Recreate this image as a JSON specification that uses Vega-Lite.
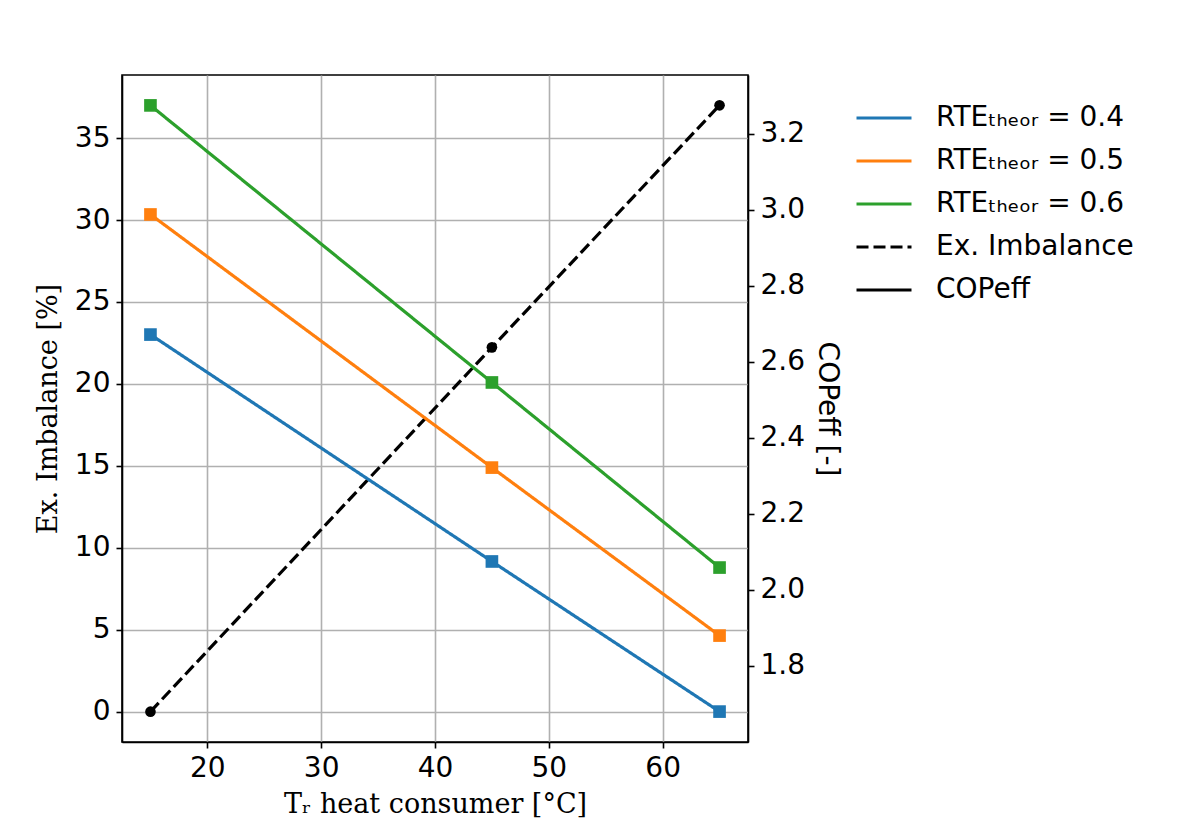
{
  "$schema": "https://vega.github.io/schema/vega-lite/v6.json",
  "width": 626,
  "height": 667,
  "autosize": {"type": "none"},
  "padding": {"left": 122, "top": 75, "right": 438, "bottom": 83},
  "background": "white",
  "config": {
    "view": {"stroke": "black", "strokeWidth": 1.6},
    "axis": {
      "labelFont": "DejaVu Sans",
      "labelFontSize": 28,
      "labelColor": "black",
      "tickColor": "black",
      "tickWidth": 1.6,
      "tickSize": 6,
      "domainColor": "black",
      "domainWidth": 1.6,
      "gridColor": "#b0b0b0",
      "gridWidth": 1.6,
      "labelPadding": 6,
      "titleColor": "black",
      "titleFontWeight": "normal"
    },
    "legend": {
      "orient": "none",
      "legendX": 733,
      "legendY": 14,
      "padding": 0,
      "symbolType": "stroke",
      "symbolSize": 3025,
      "symbolStrokeWidth": 3,
      "labelFont": "DejaVu Sans",
      "labelFontSize": 28,
      "labelColor": "black",
      "labelOffset": 23,
      "labelLimit": 500,
      "rowPadding": 0,
      "title": null
    }
  },
  "datasets": {
    "cop": [
      {"T": 15, "series": "RTEₜₕₑₒᵣ = 0.4", "cop": 2.671},
      {"T": 45, "series": "RTEₜₕₑₒᵣ = 0.4", "cop": 2.074},
      {"T": 65, "series": "RTEₜₕₑₒᵣ = 0.4", "cop": 1.679},
      {"T": 15, "series": "RTEₜₕₑₒᵣ = 0.5", "cop": 2.987},
      {"T": 45, "series": "RTEₜₕₑₒᵣ = 0.5", "cop": 2.321},
      {"T": 65, "series": "RTEₜₕₑₒᵣ = 0.5", "cop": 1.879},
      {"T": 15, "series": "RTEₜₕₑₒᵣ = 0.6", "cop": 3.274},
      {"T": 45, "series": "RTEₜₕₑₒᵣ = 0.6", "cop": 2.545},
      {"T": 65, "series": "RTEₜₕₑₒᵣ = 0.6", "cop": 2.058}
    ],
    "ex": [
      {"T": 15, "series": "Ex. Imbalance", "ex": 0.0},
      {"T": 45, "series": "Ex. Imbalance", "ex": 22.23},
      {"T": 65, "series": "Ex. Imbalance", "ex": 37.0}
    ]
  },
  "layer": [
    {
      "data": {"name": "ex"},
      "mark": {"type": "line", "strokeWidth": 3.2, "point": {"shape": "circle", "filled": true, "size": 113, "opacity": 1}},
      "encoding": {
        "x": {"field": "T", "type": "quantitative", "scale": {"domain": [12.5, 67.5], "nice": false, "zero": false},
          "axis": {"values": [20, 30, 40, 50, 60], "title": "Tᵣ heat consumer [°C]", "titleFont": "DejaVu Serif", "titleFontSize": 27, "titlePadding": 9, "grid": true}},
        "y": {"field": "ex", "type": "quantitative", "scale": {"domain": [-1.85, 38.85], "nice": false, "zero": false},
          "axis": {"orient": "left", "values": [0, 5, 10, 15, 20, 25, 30, 35], "title": "Ex. Imbalance [%]", "titleFont": "DejaVu Serif", "titleFontSize": 27, "titlePadding": 12, "grid": true}},
        "color": {"field": "series", "type": "nominal",
          "scale": {"domain": ["RTEₜₕₑₒᵣ = 0.4", "RTEₜₕₑₒᵣ = 0.5", "RTEₜₕₑₒᵣ = 0.6", "Ex. Imbalance", "COPeff"], "range": ["#1f77b4", "#ff7f0e", "#2ca02c", "black", "black"]}},
        "strokeDash": {"field": "series", "type": "nominal",
          "scale": {"domain": ["RTEₜₕₑₒᵣ = 0.4", "RTEₜₕₑₒᵣ = 0.5", "RTEₜₕₑₒᵣ = 0.6", "Ex. Imbalance", "COPeff"], "range": [[1, 0], [1, 0], [1, 0], [12, 5], [1, 0]]}}
      }
    },
    {
      "data": {"name": "cop"},
      "mark": {"type": "line", "strokeWidth": 3.2, "point": {"shape": "square", "filled": true, "size": 160, "opacity": 1}},
      "encoding": {
        "x": {"field": "T", "type": "quantitative"},
        "y": {"field": "cop", "type": "quantitative", "scale": {"domain": [1.599, 3.354], "nice": false, "zero": false},
          "axis": {"orient": "right", "values": [1.8, 2.0, 2.2, 2.4, 2.6, 2.8, 3.0, 3.2], "format": ".1f", "title": "COPeff [-]", "titleFont": "DejaVu Sans", "titleFontSize": 28, "titlePadding": 8, "grid": false}},
        "color": {"field": "series", "type": "nominal"},
        "strokeDash": {"field": "series", "type": "nominal"}
      }
    }
  ],
  "resolve": {"scale": {"y": "independent"}}
}
